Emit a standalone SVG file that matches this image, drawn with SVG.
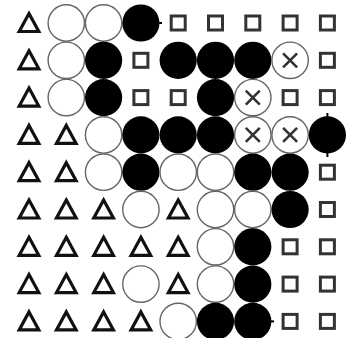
<svg xmlns="http://www.w3.org/2000/svg" xmlns:xlink="http://www.w3.org/1999/xlink" width="357" height="338" viewBox="0 0 357 338">
<style>
.tri{fill:#fff;stroke:#111;stroke-width:3.2;stroke-linejoin:miter}
.wc{fill:#fff;stroke:#666;stroke-width:1.4}
.bc{fill:#000}
.sq{fill:#fff;stroke:#333;stroke-width:3}
.xm{stroke:#333;stroke-width:2.6;fill:none}
.stub{stroke:#000;stroke-width:2}
</style>
<defs>
<path id="T" class="tri" d="M0,-9.5 L9.8,8.5 L-9.8,8.5 Z"/>
<circle id="W" class="wc" r="18.2"/>
<circle id="B" class="bc" r="18.6"/>
<rect id="S" class="sq" x="-7" y="-7" width="14" height="14"/>
<g id="X"><circle class="wc" r="18.2"/><path class="xm" d="M-7,-7 L7,7 M7,-7 L-7,7"/></g>
</defs>
<rect width="357" height="338" fill="#fff"/>
<g id="connectors">
<line class="stub" x1="158" y1="23" x2="162" y2="23"/>
<line class="stub" x1="327.4" y1="113" x2="327.4" y2="117"/>
<line class="stub" x1="327.4" y1="153" x2="327.4" y2="157"/>
<line class="stub" x1="270" y1="321.4" x2="274" y2="321.4"/>
</g>
<g id="row0">
<g id="n0-0"><use href="#T" x="29" y="23"/></g>
<g id="n0-1"><use href="#W" x="66.3" y="23"/></g>
<g id="n0-2"><use href="#W" x="103.6" y="23"/></g>
<g id="n0-3"><use href="#B" x="140.9" y="23"/></g>
<g id="n0-4"><use href="#S" x="178.2" y="23"/></g>
<g id="n0-5"><use href="#S" x="215.5" y="23"/></g>
<g id="n0-6"><use href="#S" x="252.8" y="23"/></g>
<g id="n0-7"><use href="#S" x="290.1" y="23"/></g>
<g id="n0-8"><use href="#S" x="327.4" y="23"/></g>
</g>
<g id="row1">
<g id="n1-0"><use href="#T" x="29" y="60.3"/></g>
<g id="n1-1"><use href="#W" x="66.3" y="60.3"/></g>
<g id="n1-2"><use href="#B" x="103.6" y="60.3"/></g>
<g id="n1-3"><use href="#S" x="140.9" y="60.3"/></g>
<g id="n1-4"><use href="#B" x="178.2" y="60.3"/></g>
<g id="n1-5"><use href="#B" x="215.5" y="60.3"/></g>
<g id="n1-6"><use href="#B" x="252.8" y="60.3"/></g>
<g id="n1-7"><use href="#X" x="290.1" y="60.3"/></g>
<g id="n1-8"><use href="#S" x="327.4" y="60.3"/></g>
</g>
<g id="row2">
<g id="n2-0"><use href="#T" x="29" y="97.6"/></g>
<g id="n2-1"><use href="#W" x="66.3" y="97.6"/></g>
<g id="n2-2"><use href="#B" x="103.6" y="97.6"/></g>
<g id="n2-3"><use href="#S" x="140.9" y="97.6"/></g>
<g id="n2-4"><use href="#S" x="178.2" y="97.6"/></g>
<g id="n2-5"><use href="#B" x="215.5" y="97.6"/></g>
<g id="n2-6"><use href="#X" x="252.8" y="97.6"/></g>
<g id="n2-7"><use href="#S" x="290.1" y="97.6"/></g>
<g id="n2-8"><use href="#S" x="327.4" y="97.6"/></g>
</g>
<g id="row3">
<g id="n3-0"><use href="#T" x="29" y="134.9"/></g>
<g id="n3-1"><use href="#T" x="66.3" y="134.9"/></g>
<g id="n3-2"><use href="#W" x="103.6" y="134.9"/></g>
<g id="n3-3"><use href="#B" x="140.9" y="134.9"/></g>
<g id="n3-4"><use href="#B" x="178.2" y="134.9"/></g>
<g id="n3-5"><use href="#B" x="215.5" y="134.9"/></g>
<g id="n3-6"><use href="#X" x="252.8" y="134.9"/></g>
<g id="n3-7"><use href="#X" x="290.1" y="134.9"/></g>
<g id="n3-8"><use href="#B" x="327.4" y="134.9"/></g>
</g>
<g id="row4">
<g id="n4-0"><use href="#T" x="29" y="172.2"/></g>
<g id="n4-1"><use href="#T" x="66.3" y="172.2"/></g>
<g id="n4-2"><use href="#W" x="103.6" y="172.2"/></g>
<g id="n4-3"><use href="#B" x="140.9" y="172.2"/></g>
<g id="n4-4"><use href="#W" x="178.2" y="172.2"/></g>
<g id="n4-5"><use href="#W" x="215.5" y="172.2"/></g>
<g id="n4-6"><use href="#B" x="252.8" y="172.2"/></g>
<g id="n4-7"><use href="#B" x="290.1" y="172.2"/></g>
<g id="n4-8"><use href="#S" x="327.4" y="172.2"/></g>
</g>
<g id="row5">
<g id="n5-0"><use href="#T" x="29" y="209.5"/></g>
<g id="n5-1"><use href="#T" x="66.3" y="209.5"/></g>
<g id="n5-2"><use href="#T" x="103.6" y="209.5"/></g>
<g id="n5-3"><use href="#W" x="140.9" y="209.5"/></g>
<g id="n5-4"><use href="#T" x="178.2" y="209.5"/></g>
<g id="n5-5"><use href="#W" x="215.5" y="209.5"/></g>
<g id="n5-6"><use href="#W" x="252.8" y="209.5"/></g>
<g id="n5-7"><use href="#B" x="290.1" y="209.5"/></g>
<g id="n5-8"><use href="#S" x="327.4" y="209.5"/></g>
</g>
<g id="row6">
<g id="n6-0"><use href="#T" x="29" y="246.8"/></g>
<g id="n6-1"><use href="#T" x="66.3" y="246.8"/></g>
<g id="n6-2"><use href="#T" x="103.6" y="246.8"/></g>
<g id="n6-3"><use href="#T" x="140.9" y="246.8"/></g>
<g id="n6-4"><use href="#T" x="178.2" y="246.8"/></g>
<g id="n6-5"><use href="#W" x="215.5" y="246.8"/></g>
<g id="n6-6"><use href="#B" x="252.8" y="246.8"/></g>
<g id="n6-7"><use href="#S" x="290.1" y="246.8"/></g>
<g id="n6-8"><use href="#S" x="327.4" y="246.8"/></g>
</g>
<g id="row7">
<g id="n7-0"><use href="#T" x="29" y="284.1"/></g>
<g id="n7-1"><use href="#T" x="66.3" y="284.1"/></g>
<g id="n7-2"><use href="#T" x="103.6" y="284.1"/></g>
<g id="n7-3"><use href="#W" x="140.9" y="284.1"/></g>
<g id="n7-4"><use href="#T" x="178.2" y="284.1"/></g>
<g id="n7-5"><use href="#W" x="215.5" y="284.1"/></g>
<g id="n7-6"><use href="#B" x="252.8" y="284.1"/></g>
<g id="n7-7"><use href="#S" x="290.1" y="284.1"/></g>
<g id="n7-8"><use href="#S" x="327.4" y="284.1"/></g>
</g>
<g id="row8">
<g id="n8-0"><use href="#T" x="29" y="321.4"/></g>
<g id="n8-1"><use href="#T" x="66.3" y="321.4"/></g>
<g id="n8-2"><use href="#T" x="103.6" y="321.4"/></g>
<g id="n8-3"><use href="#T" x="140.9" y="321.4"/></g>
<g id="n8-4"><use href="#W" x="178.2" y="321.4"/></g>
<g id="n8-5"><use href="#B" x="215.5" y="321.4"/></g>
<g id="n8-6"><use href="#B" x="252.8" y="321.4"/></g>
<g id="n8-7"><use href="#S" x="290.1" y="321.4"/></g>
<g id="n8-8"><use href="#S" x="327.4" y="321.4"/></g>
</g>
</svg>
